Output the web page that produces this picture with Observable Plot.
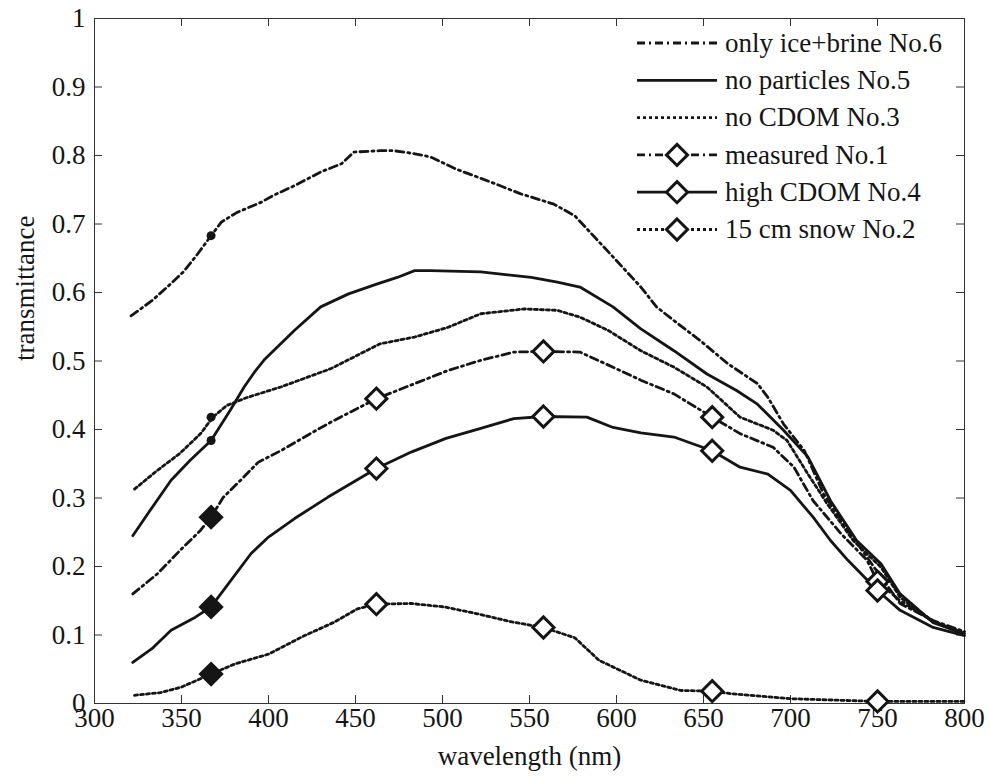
<!DOCTYPE html>
<html><head><meta charset="utf-8">
<script src="https://cdn.jsdelivr.net/npm/d3@7"></script>
<script src="https://cdn.jsdelivr.net/npm/@observablehq/plot@0.6"></script>
<style>
body{margin:0;background:#fff;}
</style></head><body><div id="wrap"></div>
<script>
// ---- data ----
const xTicks = [300,350,400,450,500,550,600,650,700,750,800];
const yTicks = [0,0.1,0.2,0.3,0.4,0.5,0.6,0.7,0.8,0.9,1];
const yTickLabels = ["0","0.1","0.2","0.3","0.4","0.5","0.6","0.7","0.8","0.9","1"];

// No.6 only ice+brine
const wl6 = [321,333,344,351,358,367,373,382,396,403,415,430,442,449,464,472,483,493,508,528,545,564,576,583,598,614,623,633,648,664,681,687,696,708,719,733,748,763,782,800];
const tr6 = [.566,.588,.613,.630,.652,.683,.703,.717,.732,.742,.756,.776,.788,.805,.807,.807,.803,.798,.780,.761,.744,.729,.712,.693,.652,.608,.579,.559,.530,.496,.467,.447,.408,.369,.306,.253,.199,.146,.121,.105];
// No.5 no particles
const wl5 = [322,332,344,355,367,378,386,392,398,415,430,446,463,474,484,493,522,551,566,579,598,614,633,652,669,681,696,710,723,738,752,763,782,800];
const tr5 = [.245,.282,.326,.355,.384,.428,.462,.484,.503,.545,.579,.598,.613,.622,.632,.632,.630,.622,.615,.608,.579,.547,.515,.481,.457,.437,.399,.360,.296,.238,.204,.160,.118,.102];
// No.3 no CDOM
const wl3 = [323,336,349,361,368,376,388,407,436,464,484,503,522,547,566,579,595,614,633,652,671,690,698,710,721,736,752,763,782,800];
const tr3 = [.313,.340,.365,.394,.418,.435,.447,.462,.489,.525,.535,.549,.569,.576,.574,.564,.545,.515,.491,.462,.418,.399,.384,.335,.292,.238,.199,.155,.120,.103];
// No.1 measured
const wl1 = [322,336,349,361,367,374,384,394,407,422,436,462,484,503,522,541,558,579,598,614,633,655,671,690,702,713,729,744,750,763,782,800];
const tr1 = [.160,.189,.223,.253,.272,.301,.326,.352,.369,.391,.411,.445,.467,.486,.501,.513,.514,.513,.491,.472,.452,.418,.394,.374,.345,.296,.248,.209,.178,.150,.120,.100];
// No.4 high CDOM
const wl4 = [322,333,344,358,367,377,390,400,415,434,462,482,502,521,541,558,583,598,614,633,655,671,687,700,713,723,733,750,763,782,800];
const tr4 = [.060,.080,.107,.126,.141,.175,.219,.243,.270,.301,.343,.367,.387,.401,.416,.419,.418,.403,.395,.389,.369,.345,.335,.311,.272,.238,.209,.165,.136,.111,.099];
// No.2 15 cm snow
const wl2 = [323,338,350,367,381,400,419,438,451,462,482,501,520,540,558,576,590,614,637,655,667,700,750,800];
const tr2 = [.012,.016,.024,.043,.058,.072,.097,.119,.138,.145,.146,.141,.131,.119,.111,.096,.063,.034,.019,.018,.014,.007,.003,.003];

// markers
const markWl = [367,462,558,655,750];
const mk1 = [.272,.445,.514,.418,.178];
const mk4 = [.141,.343,.419,.369,.165];
const mk2 = [.043,.145,.111,.018,.003];
const dotWl = 367;
const dotVals = [.683,.384,.418]; // No.6, No.5, No.3

const legendLabels = ["only ice+brine No.6","no particles No.5","no CDOM No.3","measured No.1","high CDOM No.4","15 cm snow No.2"];

// ---- build ----
const FONT = "Liberation Serif";
const toRows = (w,t) => w.map((x,i)=>({x, y:t[i]}));
const DASHDOT = "8,4,2,4", DOT = "3,3";
const INK = "#151515";
const series = [
  {d:toRows(wl6,tr6), dash:DASHDOT},
  {d:toRows(wl5,tr5), dash:null},
  {d:toRows(wl3,tr3), dash:DOT},
  {d:toRows(wl1,tr1), dash:DASHDOT},
  {d:toRows(wl4,tr4), dash:null},
  {d:toRows(wl2,tr2), dash:DOT}
];
const openMarks = [], filledMarks = [];
[mk1,mk4,mk2].forEach(arr => arr.forEach((v,i)=>(i===0?filledMarks:openMarks).push({x:markWl[i], y:v})));
const dotRows = dotVals.map(v=>({x:dotWl, y:v}));

const W=990,H=778,ML=94,MR=26,MT=18,MB=75;
const FW=W-ML-MR, FH=H-MT-MB, TK=8;

const marks = [
  Plot.frame({stroke:"#333", strokeWidth:1}),
  Plot.tickX(xTicks,{x:d=>d, insetTop:FH-TK, stroke:"#333"}),
  Plot.tickX(xTicks,{x:d=>d, insetBottom:FH-TK, stroke:"#333"}),
  Plot.tickY(yTicks,{y:d=>d, insetRight:FW-TK, stroke:"#333"}),
  Plot.tickY(yTicks,{y:d=>d, insetLeft:FW-TK, stroke:"#333"}),
  Plot.axisX({ticks:xTicks, tickSize:0, tickPadding:4, tickFormat:d=>String(d), label:null, fontSize:27, fontFamily:FONT}),
  Plot.axisY({ticks:yTicks, tickSize:0, tickPadding:9, tickFormat:d=>yTickLabels[yTicks.indexOf(d)], label:null, fontSize:27, fontFamily:FONT}),
  Plot.text(["wavelength (nm)"],{frameAnchor:"bottom", dy:61, fontSize:27, fill:INK, fontFamily:FONT}),
  Plot.text(["transmittance"],{frameAnchor:"left", dx:-69, rotate:-90, fontSize:27, fill:INK, fontFamily:FONT})
];
series.forEach(s => marks.push(Plot.line(s.d,{x:"x", y:"y", stroke:INK, strokeWidth:2.8, strokeDasharray:s.dash||undefined})));
marks.push(Plot.dot(dotRows,{x:"x", y:"y", r:4.5, fill:INK}));
marks.push(Plot.dot(openMarks,{x:"x", y:"y", r:9.5, symbol:"diamond2", fill:"white", stroke:INK, strokeWidth:3}));
marks.push(Plot.dot(filledMarks,{x:"x", y:"y", r:9.5, symbol:"diamond2", fill:INK, stroke:INK, strokeWidth:3}));

const chart = Plot.plot({
  width:W, height:H, marginLeft:ML, marginRight:MR, marginTop:MT, marginBottom:MB,
  x:{domain:[300,800]}, y:{domain:[0,1]},
  style:{fontFamily:FONT, fontSize:"27px", color:INK, background:"white"},
  marks
});
document.getElementById("wrap").appendChild(chart);

// legend drawn inside the same SVG, top-right of the axes
const lg = d3.select(chart).append("g").attr("font-family",FONT).attr("font-size",27).attr("text-anchor","start");
const lstyles = [
  {dash:DASHDOT, mk:false},{dash:null, mk:false},{dash:DOT, mk:false},
  {dash:DASHDOT, mk:true},{dash:null, mk:true},{dash:DOT, mk:true}
];
const dsym = d3.symbol(d3.symbolDiamond2, Math.PI*9.5*9.5)();
legendLabels.forEach((lab,i)=>{
  const y = 43 + i*37.3;
  lg.append("line").attr("x1",637).attr("x2",717).attr("y1",y).attr("y2",y)
    .attr("stroke",INK).attr("stroke-width",2.8).attr("stroke-dasharray",lstyles[i].dash);
  if (lstyles[i].mk) {
    lg.append("path").attr("d",dsym).attr("transform",`translate(677,${y})`)
      .attr("fill","white").attr("stroke",INK).attr("stroke-width",3);
  }
  lg.append("text").attr("x",725).attr("y",y).attr("dy","0.32em").attr("fill",INK).text(lab);
});
</script></body></html>
